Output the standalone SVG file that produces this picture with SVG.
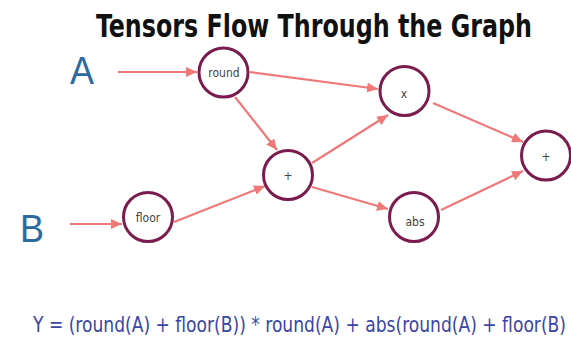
<svg xmlns="http://www.w3.org/2000/svg" width="571" height="339" viewBox="0 0 571 339">
<style>
.node{fill:#fff;stroke:#7a1d4e;stroke-width:3}
.lbl{font-family:"DejaVu Sans Condensed","Liberation Sans",sans-serif;font-size:12px;fill:#444;text-anchor:middle}
.edge{stroke:#ef7878;stroke-width:2.2;fill:none;marker-end:url(#ah)}
.var{font-family:"Liberation Sans",sans-serif;font-size:38px;fill:#2c6aa0}
</style>
<defs>
<marker id="ah" markerUnits="userSpaceOnUse" markerWidth="12" markerHeight="10" refX="11" refY="5" orient="auto">
<path d="M0,0 L11,5 L0,10 Z" fill="#ef7878"/>
</marker>
</defs>
<rect width="571" height="339" fill="#fff"/>
<text transform="translate(96,37) scale(1,1.2)" x="0" y="0" font-family="DejaVu Sans Condensed, Liberation Sans, sans-serif" font-weight="bold" font-size="26" fill="#111" textLength="436" lengthAdjust="spacingAndGlyphs">Tensors Flow Through the Graph</text>
<text class="var" x="70" y="84" textLength="24" lengthAdjust="spacingAndGlyphs">A</text>
<text class="var" x="20" y="242" textLength="24" lengthAdjust="spacingAndGlyphs">B</text>
<g id="connectors">
<line class="edge" x1="118" y1="72" x2="197" y2="72"/>
<line class="edge" x1="70" y1="224" x2="122" y2="224"/>
<line class="edge" x1="250" y1="72" x2="378" y2="89"/>
<line class="edge" x1="235" y1="97" x2="277" y2="150"/>
<line class="edge" x1="174" y1="222" x2="265" y2="186"/>
<line class="edge" x1="312" y1="163" x2="388" y2="115"/>
<line class="edge" x1="312" y1="187" x2="388" y2="209"/>
<line class="edge" x1="433" y1="103" x2="523" y2="142"/>
<line class="edge" x1="441" y1="210" x2="523" y2="171"/>
</g>
<g id="round"><circle class="node" cx="223.5" cy="72.5" r="24.5"/><text class="lbl" x="224" y="77">round</text></g>
<g id="floor"><circle class="node" cx="148" cy="217" r="24.5"/><text class="lbl" x="148" y="222">floor</text></g>
<g id="add1"><circle class="node" cx="288" cy="175" r="24.5"/><text class="lbl" x="288" y="180">+</text></g>
<g id="mul"><circle class="node" cx="404.5" cy="91" r="24.5"/><text class="lbl" x="404" y="98">x</text></g>
<g id="abs"><circle class="node" cx="414" cy="217" r="24.5"/><text class="lbl" x="415" y="226">abs</text></g>
<g id="add2"><circle class="node" cx="546" cy="155.5" r="24.5"/><text class="lbl" x="546" y="161">+</text></g>
<text transform="translate(33,332) scale(1,1.3)" x="0" y="0" font-family="DejaVu Sans Condensed, Liberation Sans, sans-serif" font-size="16.5" fill="#3a46a6" textLength="533" lengthAdjust="spacingAndGlyphs">Y = (round(A) + floor(B)) * round(A) + abs(round(A) + floor(B)</text>
</svg>
